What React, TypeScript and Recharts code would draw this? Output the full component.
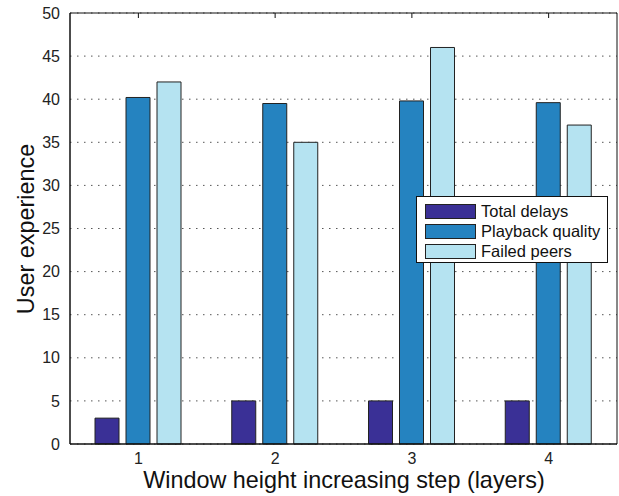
import { BarChart, Bar, XAxis, YAxis, CartesianGrid, Legend, Label } from 'recharts'

const steps = ['1', '2', '3', '4']
const totalDelays = [3, 5, 5, 5]
const playbackQuality = [40.2, 39.5, 39.8, 39.6]
const failedPeers = [42, 35, 46, 37]
const yTicks = [0, 5, 10, 15, 20, 25, 30, 35, 40, 45, 50]

const data = steps.map((s, i) => ({
  step: s,
  delays: totalDelays[i],
  playback: playbackQuality[i],
  failed: failedPeers[i],
}))

const font = '"Liberation Sans", Arial, sans-serif'

const legendItems = [
  { name: 'Total delays', color: '#3a3096' },
  { name: 'Playback quality', color: '#2583c0' },
  { name: 'Failed peers', color: '#b5e3f1' },
]

function LegendBox() {
  return (
    <div style={{ width: 192, height: 67, border: '1px solid #111', background: '#fff', fontFamily: font, fontSize: 16.5, color: '#111', padding: '4px 0 0 8px', boxSizing: 'border-box' }}>
      {legendItems.map((it) => (
        <div key={it.name} style={{ display: 'flex', alignItems: 'center', height: 20.3 }}>
          <div style={{ width: 51, height: 15, boxSizing: 'border-box', background: it.color, border: '1px solid #222', marginRight: 5 }} />
          <span>{it.name}</span>
        </div>
      ))}
    </div>
  )
}

export default function App() {
  return (
    <div style={{ position: 'absolute', left: 0, top: 0, background: '#fff' }}>
      <BarChart width={619} height={496} data={data} margin={{ top: 13, right: 2, bottom: 0, left: 0 }} barSize={24} barGap={7}>
        <CartesianGrid vertical={false} stroke="#555" strokeDasharray="1.5 5.5" />
        <XAxis dataKey="step" height={52} tickLine={false} axisLine={{ stroke: '#111', strokeWidth: 1.5 }} tick={{ fontSize: 16, fill: '#222', fontFamily: font }} tickMargin={3}>
          <Label content={() => (
            <text x={344} y={488} textAnchor="middle" fontSize={23.4} fill="#111" fontFamily={font}>Window height increasing step (layers)</text>
          )} />
        </XAxis>
        <XAxis xAxisId="top" dataKey="step" orientation="top" mirror height={1} tickSize={5} tickFormatter={() => ''} axisLine={{ stroke: '#111' }} tickLine={{ stroke: '#111' }} />
        <YAxis width={70} domain={[0, 50]} ticks={yTicks} tickLine={false} axisLine={{ stroke: '#111', strokeWidth: 1.5 }} tick={{ fontSize: 16, fill: '#222', fontFamily: font }} tickMargin={4}>
          <Label content={() => (
            <text x={26} y={229} transform="rotate(-90 26 229)" textAnchor="middle" dominantBaseline="central" fontSize={23.4} fill="#111" fontFamily={font}>User experience</text>
          )} />
        </YAxis>
        <YAxis yAxisId="right" orientation="right" mirror width={1} domain={[0, 50]} ticks={yTicks} tickSize={5} tickFormatter={() => ''} axisLine={{ stroke: '#111' }} tickLine={{ stroke: '#111' }} />
        <Legend verticalAlign="middle" content={<LegendBox />} wrapperStyle={{ left: 416, top: 196, width: 192, bottom: 'auto' }} />
        <Bar dataKey="delays" name="Total delays" fill="#3a3096" stroke="#222" strokeWidth={1} isAnimationActive={false} />
        <Bar dataKey="playback" name="Playback quality" fill="#2583c0" stroke="#222" strokeWidth={1} isAnimationActive={false} />
        <Bar dataKey="failed" name="Failed peers" fill="#b5e3f1" stroke="#222" strokeWidth={1} isAnimationActive={false} />
      </BarChart>
    </div>
  )
}
